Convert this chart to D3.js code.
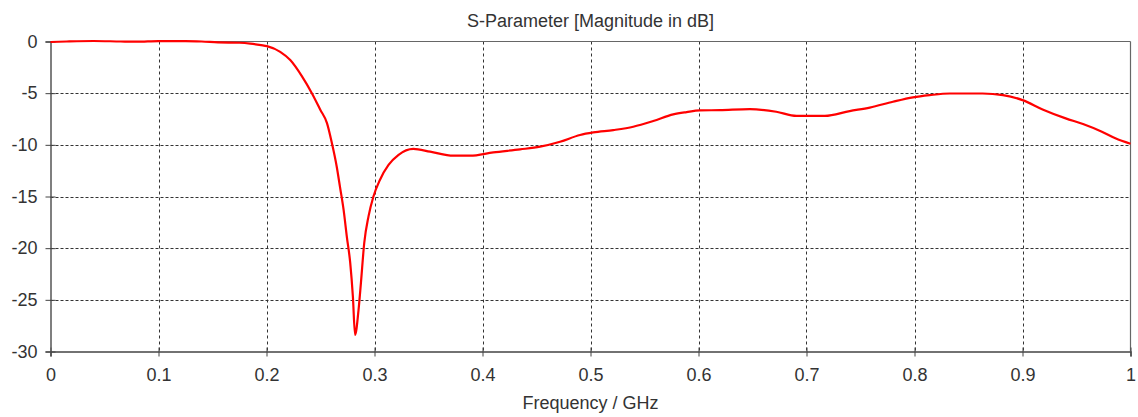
<!DOCTYPE html>
<html>
<head>
<meta charset="utf-8">
<script src="https://cdn.jsdelivr.net/npm/d3@7"></script>
<style>
  html, body { margin: 0; padding: 0; background: #fff; }
  svg { display: block; }
  text { font-family: "Liberation Sans", Arial, sans-serif; fill: #333; }
</style>
</head>
<body>
<svg id="chart" width="1138" height="417"></svg>
<script>
// Reflection magnitude versus frequency
const freqGHz = [
  0, 0.015, 0.04, 0.065, 0.08, 0.1, 0.125, 0.14, 0.155, 0.175, 0.185, 0.195,
  0.2004, 0.2127, 0.222, 0.233, 0.242, 0.2498, 0.256, 0.2606, 0.265, 0.268,
  0.2714, 0.2744, 0.2775, 0.280, 0.282, 0.2852, 0.2874, 0.2905, 0.2945, 0.299,
  0.305, 0.313, 0.322, 0.336, 0.3515, 0.373, 0.3885, 0.410, 0.4348, 0.4533,
  0.4718, 0.4903, 0.5026, 0.5211, 0.5396, 0.5581, 0.5766, 0.589, 0.6013,
  0.6198, 0.6475, 0.672, 0.6907, 0.717, 0.740, 0.7586, 0.780, 0.7986, 0.814,
  0.8326, 0.863, 0.8819, 0.9, 0.9186, 0.940, 0.956, 0.9735, 0.986, 1.0
];
const s11dB = [
  -0.05, 0.0, 0.05, 0.0, -0.02, 0.04, 0.04, 0.0, -0.08, -0.12, -0.2, -0.35,
  -0.45, -1.0, -1.8, -3.4, -5.0, -6.6, -7.9, -9.86, -12.1, -14.05,
  -16.3, -18.9, -21.4, -24.7, -28.4, -26.0, -23.4, -19.5, -16.9, -15.0,
  -13.4, -11.95, -11.0, -10.4, -10.66, -11.05, -11.05, -10.73, -10.44, -10.18,
  -9.7, -9.05, -8.8, -8.57, -8.25, -7.7, -7.05, -6.83, -6.67,
  -6.64, -6.54, -6.8, -7.2, -7.2, -6.73, -6.4, -5.83, -5.4, -5.19,
  -5.03, -5.03, -5.19, -5.67, -6.57, -7.44, -7.99, -8.73, -9.37, -9.9
];
const xTicks = [0, 0.1, 0.2, 0.3, 0.4, 0.5, 0.6, 0.7, 0.8, 0.9, 1];
const xTickLabels = ["0", "0.1", "0.2", "0.3", "0.4", "0.5", "0.6", "0.7", "0.8", "0.9", "1"];
const yTicks = [0, -5, -10, -15, -20, -25, -30];
const yTickLabels = ["0", "-5", "-10", "-15", "-20", "-25", "-30"];
const titleText = "S-Parameter [Magnitude in dB]";
const xAxisTitle = "Frequency / GHz";

const svg = d3.select("#chart");
const plotLeft = 50.5, plotRight = 1130.5, plotTop = 41.5, plotBottom = 351.5;

const x = d3.scaleLinear().domain([0, 1]).range([plotLeft, plotRight]);
const y = d3.scaleLinear().domain([-30, 0]).range([plotBottom, plotTop]);

// dashed grid
const grid = svg.append("g")
  .attr("stroke", "#333")
  .attr("stroke-width", 1);
grid.selectAll("line.v")
  .data(xTicks.slice(1, -1))
  .join("line")
  .attr("class", "v")
  .attr("stroke-dasharray", "3,3")
  .attr("x1", d => Math.round(x(d)) + 0.5).attr("x2", d => Math.round(x(d)) + 0.5)
  .attr("y1", plotTop).attr("y2", plotBottom);
grid.selectAll("line.h")
  .data(yTicks.slice(1, -1))
  .join("line")
  .attr("class", "h")
  .attr("stroke-dasharray", "3,2")
  .attr("y1", d => Math.round(y(d)) + 0.5).attr("y2", d => Math.round(y(d)) + 0.5)
  .attr("x1", plotLeft).attr("x2", plotRight);

// frame
svg.append("line").attr("x1", plotLeft).attr("x2", plotRight).attr("y1", plotTop).attr("y2", plotTop)
  .attr("stroke", "#666").attr("stroke-width", 1.2);
svg.append("line").attr("x1", plotRight).attr("x2", plotRight).attr("y1", plotTop).attr("y2", plotBottom)
  .attr("stroke", "#666").attr("stroke-width", 1.2);

// axes
const xAxis = d3.axisBottom(x)
  .tickValues(xTicks)
  .tickFormat((d, i) => xTickLabels[i])
  .tickSize(5)
  .tickPadding(12);
const gx = svg.append("g").attr("transform", `translate(0,${plotBottom})`).call(xAxis);
gx.select(".domain").attr("stroke", "#444").attr("stroke-width", 1.5);
gx.selectAll(".tick line").attr("stroke", "#444").attr("y1", -4).attr("y2", 5);
gx.selectAll(".tick text").attr("font-size", 18).attr("fill", "#333")
  .attr("font-family", "Liberation Sans, Arial, sans-serif");

const yAxis = d3.axisLeft(y)
  .tickValues(yTicks)
  .tickFormat((d, i) => yTickLabels[i])
  .tickSize(5)
  .tickPadding(8);
const gy = svg.append("g").attr("transform", `translate(${plotLeft},0)`).call(yAxis);
gy.select(".domain").attr("stroke", "#555").attr("stroke-width", 1.5);
gy.selectAll(".tick line").attr("stroke", "#444").attr("x1", 5).attr("x2", -5);
gy.selectAll(".tick text").attr("font-size", 18).attr("fill", "#333")
  .attr("font-family", "Liberation Sans, Arial, sans-serif");

// curve
const pts = freqGHz.map((f, i) => [f, s11dB[i]]);
const line = d3.line()
  .x(d => x(d[0]))
  .y(d => y(d[1]))
  .curve(d3.curveMonotoneX);
svg.append("path")
  .datum(pts)
  .attr("d", line)
  .attr("fill", "none")
  .attr("stroke", "#ff0000")
  .attr("stroke-width", 2.2)
  .attr("stroke-linejoin", "round");

// titles
svg.append("text")
  .attr("x", (plotLeft + plotRight) / 2).attr("y", 27)
  .attr("text-anchor", "middle")
  .attr("font-size", 18)
  .text(titleText);
svg.append("text")
  .attr("x", (plotLeft + plotRight) / 2).attr("y", 409)
  .attr("text-anchor", "middle")
  .attr("font-size", 18)
  .text(xAxisTitle);
</script>
</body>
</html>
